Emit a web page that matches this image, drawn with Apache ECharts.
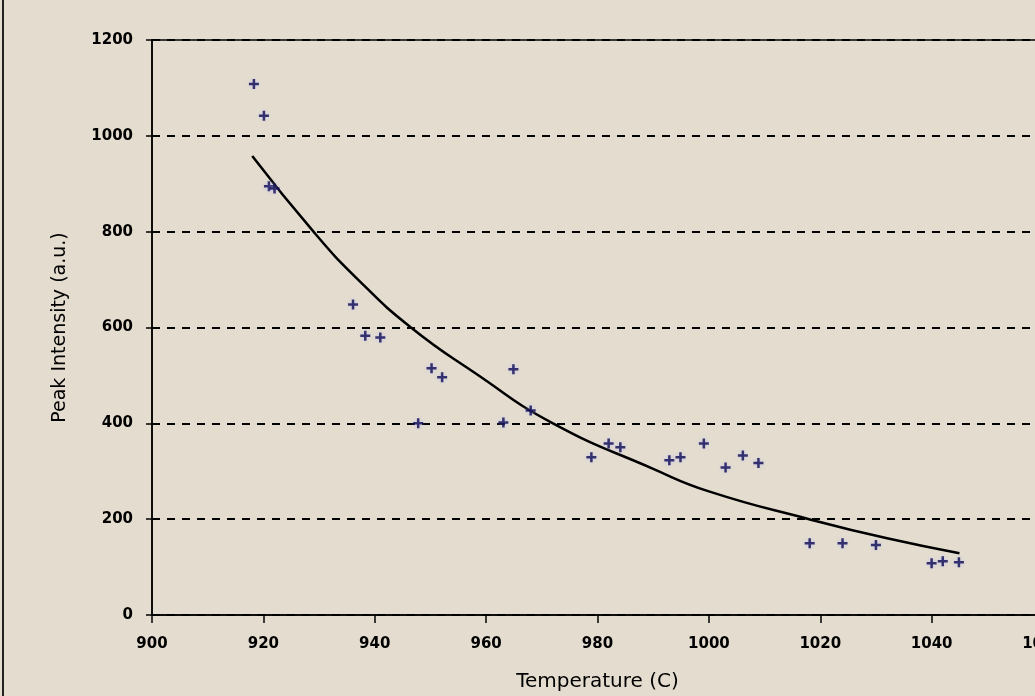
<!DOCTYPE html>
<html>
<head>
<meta charset="utf-8">
<script src="https://cdn.jsdelivr.net/npm/echarts@6/dist/echarts.min.js"></script>
<style>
  html, body { margin: 0; padding: 0; background: #e4ddcf; }
  #chart { width: 1035px; height: 696px; }
</style>
</head>
<body>
<div id="chart"></div>
<script>
// measured points (temperature C, peak intensity a.u.)
const temps = [918.3, 920.1, 921, 922, 936.1, 938.3, 941, 950.2, 952.1, 964.9, 947.8, 963.1, 968,
  978.9, 982, 984.1, 992.9, 994.9, 999.1, 1003, 1006.1, 1008.9, 1018.1, 1024, 1030, 1040, 1042, 1044.9];
const intensities = [1108, 1042, 895, 890, 648, 583, 579, 515, 496, 513, 400, 402, 427,
  329, 358, 350, 323, 329, 358, 308, 333, 317, 150, 150, 146, 108, 112, 110];

// trend line
const trendX = [918, 929, 937, 946.5, 958, 972, 990, 1000, 1018, 1032, 1045];
const trendY = [958, 800, 700, 600, 505, 400, 305, 258, 200, 160, 129];

const yTicks = [0, 200, 400, 600, 800, 1000, 1200];

const chart = echarts.init(document.getElementById("chart"));

const axisFont = { color: "#000", fontFamily: "DejaVu Sans", fontSize: 15, fontWeight: "bold" };
const titleFont = { color: "#000", fontFamily: "DejaVu Sans" };

chart.setOption({
  backgroundColor: "#e4ddcf",
  animation: false,
  grid: {
    left: 152,
    top: 40,
    width: 891,
    height: 575,
    outerBoundsMode: "none",
    containLabel: false,
    show: true,
    borderColor: "#000",
    borderWidth: 1.5,
    backgroundColor: "transparent"
  },
  graphic: [
    { type: "line", shape: { x1: 3, y1: 0, x2: 3, y2: 696 }, style: { stroke: "#222", lineWidth: 2 } }
  ],
  xAxis: {
    type: "value",
    min: 900,
    max: 1060,
    interval: 20,
    name: "Temperature (C)",
    nameLocation: "middle",
    nameGap: 57,
    nameTextStyle: Object.assign({ fontSize: 20 }, titleFont),
    axisLine: { show: true, lineStyle: { color: "#000", width: 1.5 } },
    axisTick: { show: true, length: 8, lineStyle: { color: "#000", width: 1.5 } },
    axisLabel: Object.assign({ margin: 22, formatter: (v) => String(v) }, axisFont),
    splitLine: { show: false }
  },
  yAxis: {
    type: "value",
    min: yTicks[0],
    max: yTicks[yTicks.length - 1],
    interval: 200,
    name: "Peak Intensity (a.u.)",
    nameLocation: "middle",
    nameGap: 82,
    nameTextStyle: Object.assign({ fontSize: 19 }, titleFont),
    axisLine: { show: true, lineStyle: { color: "#000", width: 1.5 } },
    axisTick: { show: true, length: 6, lineStyle: { color: "#000", width: 1.5 } },
    axisLabel: Object.assign({ margin: 19, formatter: (v) => String(v) }, axisFont),
    splitLine: { show: true, lineStyle: { color: "#000", width: 2, type: [8, 7] } }
  },
  series: [
    {
      name: "Trend",
      type: "line",
      smooth: true,
      showSymbol: false,
      data: trendX.map((x, i) => [x, trendY[i]]),
      lineStyle: { color: "#000", width: 2.5 },
      z: 2
    },
    {
      name: "Data",
      type: "scatter",
      symbol: "path://M3,0h2v3h3v2h-3v3h-2v-3h-3v-2h3z",
      symbolSize: 10,
      data: temps.map((t, i) => [t, intensities[i]]),
      itemStyle: { color: "#0a0852", shadowBlur: 4, shadowColor: "rgba(180,180,255,0.7)" },
      z: 3
    }
  ]
});
</script>
</body>
</html>
